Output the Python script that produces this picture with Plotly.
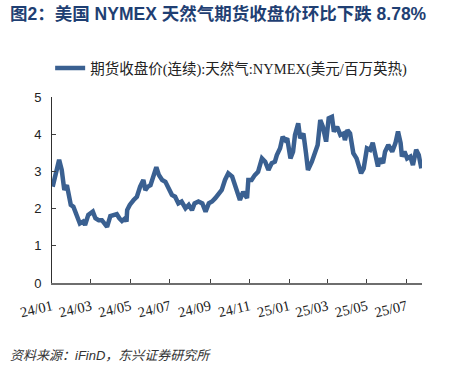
import plotly.graph_objects as go

# Data (NYMEX natural gas continuous futures close, USD/MMBtu)
dates = [
    "2024-01-02", "2024-01-06", "2024-01-12", "2024-01-16", "2024-01-20", "2024-01-24",
    "2024-01-26", "2024-01-30", "2024-02-03", "2024-02-08", "2024-02-13", "2024-02-18",
    "2024-02-21", "2024-02-26", "2024-03-04", "2024-03-08", "2024-03-13", "2024-03-18",
    "2024-03-23", "2024-03-26", "2024-03-31", "2024-04-05", "2024-04-10", "2024-04-14",
    "2024-04-18", "2024-04-23", "2024-04-25", "2024-04-26", "2024-04-30", "2024-05-06",
    "2024-05-11", "2024-05-16", "2024-05-21", "2024-05-24", "2024-05-28", "2024-06-01",
    "2024-06-06", "2024-06-10", "2024-06-14", "2024-06-19", "2024-06-24", "2024-06-29",
    "2024-07-04", "2024-07-09", "2024-07-14", "2024-07-19", "2024-07-25", "2024-07-30",
    "2024-08-04", "2024-08-08", "2024-08-14", "2024-08-20", "2024-08-25", "2024-08-30",
    "2024-09-04", "2024-09-09", "2024-09-14", "2024-09-19", "2024-09-24", "2024-09-29",
    "2024-10-05", "2024-10-08", "2024-10-12", "2024-10-17", "2024-10-22", "2024-10-28",
    "2024-10-30", "2024-11-04", "2024-11-09", "2024-11-14", "2024-11-20", "2024-11-25",
    "2024-11-30", "2024-12-05", "2024-12-10", "2024-12-13", "2024-12-18", "2024-12-22",
    "2024-12-26", "2024-12-29", "2025-01-03", "2025-01-07", "2025-01-10", "2025-01-15",
    "2025-01-18", "2025-01-23", "2025-01-27", "2025-01-30", "2025-02-05", "2025-02-10",
    "2025-02-14", "2025-02-18", "2025-02-22", "2025-02-27", "2025-03-03", "2025-03-08",
    "2025-03-11", "2025-03-16", "2025-03-21", "2025-03-26", "2025-03-28", "2025-04-01",
    "2025-04-05", "2025-04-10", "2025-04-15", "2025-04-22", "2025-04-26", "2025-05-01",
    "2025-05-06", "2025-05-10", "2025-05-15", "2025-05-18", "2025-05-21", "2025-05-26",
    "2025-05-29", "2025-06-03", "2025-06-09", "2025-06-14", "2025-06-18", "2025-06-22",
    "2025-06-24", "2025-06-28", "2025-07-02", "2025-07-07", "2025-07-11", "2025-07-16",
    "2025-07-20", "2025-07-24",
]
prices = [
    2.59, 2.90, 3.31, 3.04, 2.50, 2.63,
    2.42, 2.10, 2.05, 1.83, 1.60, 1.65,
    1.56, 1.83, 1.92, 1.74, 1.69, 1.69,
    1.60, 1.51, 1.80, 1.83, 1.85, 1.74,
    1.67, 1.74, 1.65, 1.96, 2.10, 2.23,
    2.32, 2.59, 2.77, 2.50, 2.59, 2.63,
    2.90, 3.11, 2.90, 2.77, 2.72, 2.55,
    2.37, 2.32, 2.14, 2.19, 2.01, 2.10,
    1.96, 2.14, 2.19, 2.14, 1.92, 2.14,
    2.19, 2.28, 2.37, 2.50, 2.77, 2.95,
    2.86, 2.72, 2.50, 2.23, 2.45, 2.28,
    2.77, 2.77, 2.90, 2.99, 3.35, 3.26,
    3.04, 3.22, 3.26, 3.44, 3.62, 3.93,
    3.84, 3.89, 3.35, 3.53, 3.98, 4.29,
    3.89, 4.02, 3.49, 3.04, 3.26, 3.49,
    3.71, 4.38, 4.20, 3.80, 4.43, 4.47,
    4.07, 4.20, 3.98, 4.02, 3.84, 4.11,
    4.02, 3.49, 3.35, 2.95, 3.08, 3.62,
    3.58, 3.77, 3.44, 3.13, 3.35, 3.22,
    3.53, 3.71, 3.53, 3.76, 4.07, 3.76,
    3.40, 3.53, 3.35, 3.40, 3.17, 3.58,
    3.44, 3.08,
]

tick_vals = ["2024-01-01", "2024-03-01", "2024-05-01", "2024-07-01", "2024-09-01",
             "2024-11-01", "2025-01-01", "2025-03-01", "2025-05-01", "2025-07-01"]
tick_text = ["24/01", "24/03", "24/05", "24/07", "24/09",
             "24/11", "25/01", "25/03", "25/05", "25/07"]
y_ticks = [0, 1, 2, 3, 4, 5]

series_name = "期货收盘价(连续):天然气:NYMEX(美元/百万英热)"
title_text = "图2：美国 NYMEX 天然气期货收盘价环比下跌 8.78%"
source_text = "资料来源：iFinD，东兴证券研究所"

LINE_COLOR = "#3a6091"
SANS = "Liberation Sans, Arial, Noto Sans CJK SC, sans-serif"
SERIF = "Liberation Serif, Times New Roman, Noto Sans CJK SC, serif"

fig = go.Figure()
fig.add_trace(go.Scatter(
    x=dates, y=prices, mode="lines", name=series_name,
    line=dict(color=LINE_COLOR, width=4.5), showlegend=True,
))

fig.update_layout(
    width=455, height=369,
    margin=dict(l=52, r=33, t=97, b=86, autoexpand=False),
    paper_bgcolor="white", plot_bgcolor="white",
    showlegend=True,
    legend=dict(
        orientation="h", x=-0.005, xanchor="left", y=1.155, yanchor="middle",
        font=dict(family=SERIF, size=14.5, color="#222222"),
        bgcolor="rgba(0,0,0,0)",
    ),
    xaxis=dict(
        type="date",
        range=["2024-01-01", "2025-07-25"],
        tickvals=tick_vals, ticktext=tick_text,
        tickangle=-13,
        tickfont=dict(family=SERIF, size=14.5, color="#222222"),
        ticklabelstandoff=8,
        ticks="inside", ticklen=4, tickcolor="#404040", tickwidth=1,
        showline=True, linecolor="#6e6e6e", linewidth=1.5,
        showgrid=False, zeroline=False,
    ),
    yaxis=dict(
        range=[0, 5],
        tickvals=y_ticks,
        tickfont=dict(family=SANS, size=13, color="#222222"),
        ticklabelstandoff=7,
        ticks="inside", ticklen=4, tickcolor="#404040", tickwidth=1,
        showline=True, linecolor="#303030", linewidth=1,
        showgrid=False, zeroline=False,
    ),
    annotations=[
        dict(text="<b>" + title_text + "</b>", xref="paper", yref="paper",
             x=-0.12, y=1.0, xanchor="left", yanchor="middle",
             yshift=83, showarrow=False,
             font=dict(family=SANS, size=17.5, color="#1f3f73")),
        dict(text="<i>" + source_text + "</i>", xref="paper", yref="paper",
             x=-0.12, y=0, xanchor="left", yanchor="middle",
             yshift=-72, showarrow=False,
             font=dict(family=SANS, size=13, color="#333333")),
    ],
)

fig.write_html("out.html", config={"displayModeBar": False},
               post_script="document.body.style.margin='0';")
